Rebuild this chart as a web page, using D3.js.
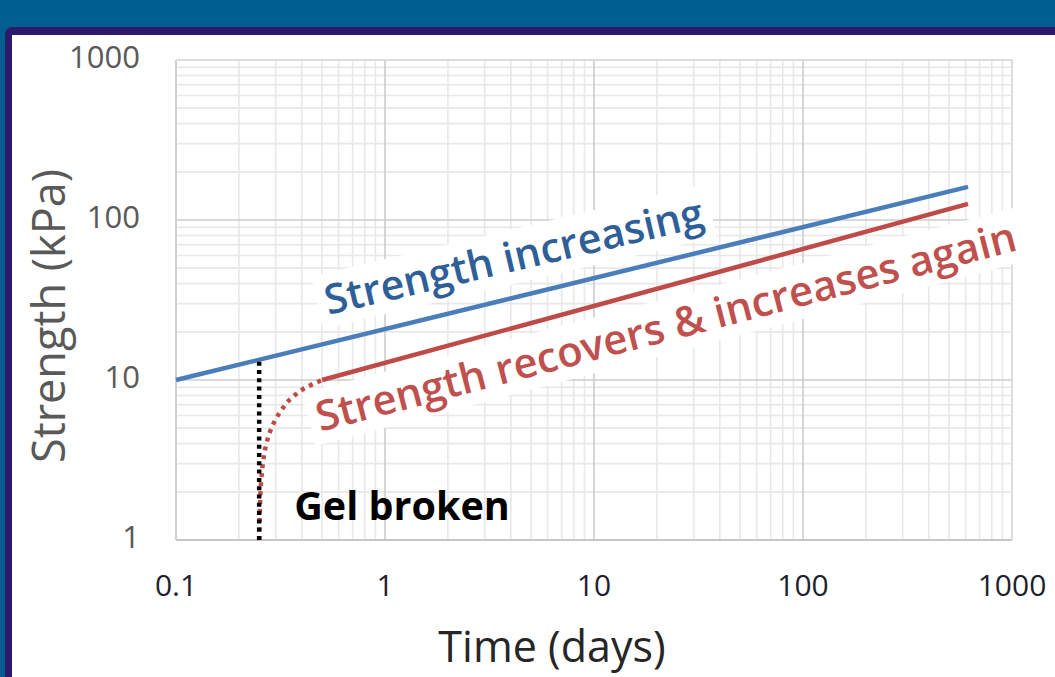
<!DOCTYPE html>
<html>
<head>
<meta charset="utf-8">
<script src="https://cdn.jsdelivr.net/npm/d3@7"></script>
<style>
  html, body { margin: 0; padding: 0; background: #005f8e; }
  svg { display: block; }
  text { font-family: "Open Sans", "DejaVu Sans", sans-serif; }
</style>
</head>
<body>
<svg id="chart" width="1055" height="677"></svg>
<script>
// ---------------- data ----------------
const xTickValues = [0.1, 1, 10, 100, 1000];
const xTickLabels = ["0.1", "1", "10", "100", "1000"];
const yTickValues = [1, 10, 100, 1000];
const yTickLabels = ["1", "10", "100", "1000"];

// Strength increasing (undisturbed gel)
const blueTime = [0.1, 616];
const blueStrength = [10, 161];

// Strength recovers & increases again (after gel broken)
const redTime = [0.5, 616];
const redStrength = [10, 126];

// Recovery phase (dotted)
const recoveryTime = [0.25, 0.252, 0.256, 0.262, 0.272, 0.29, 0.32, 0.36, 0.42, 0.5];
const recoveryStrength = [1, 1.6, 2.4, 3.2, 4.1, 5.2, 6.5, 7.8, 9.0, 10];

// Gel broken marker
const gelBrokenTime = [0.25, 0.25];
const gelBrokenStrength = [1, 13.4];

const xTitle = "Time (days)";
const yTitle = "Strength (kPa)";
const labelIncreasing = "Strength increasing";
const labelRecovers = "Strength recovers & increases again";
const labelGel = "Gel broken";

// ---------------- layout ----------------
const svg = d3.select("#chart");
const W = 1055, H = 677;
const plot = { left: 176, right: 1012, top: 60, bottom: 540 };

const x = d3.scaleLog().domain([0.1, 1000]).range([plot.left, plot.right]);
const y = d3.scaleLog().domain([1, 1000]).range([plot.bottom, plot.top]);

// frame
svg.append("rect").attr("x", 0).attr("y", 0).attr("width", W).attr("height", H).attr("fill", "#005f8e");
svg.append("rect").attr("x", 5).attr("y", 27).attr("width", W + 20).attr("height", H + 20)
  .attr("rx", 7).attr("fill", "#2d1a6c");
svg.append("rect").attr("x", 12).attr("y", 35).attr("width", W + 20).attr("height", H + 20)
  .attr("fill", "#ffffff");

// minor grid values
function minorVals(domain) {
  const out = [];
  let d = domain[0];
  while (d < domain[1] - 1e-9) {
    for (let k = 2; k <= 9; k++) out.push(d * k);
    d *= 10;
  }
  return out;
}
const g = svg.append("g");

g.selectAll(".vminor").data(minorVals(x.domain())).join("line")
  .attr("x1", d => x(d)).attr("x2", d => x(d))
  .attr("y1", plot.top).attr("y2", plot.bottom)
  .attr("stroke", "#e8e8e8").attr("stroke-width", 1.6);
g.selectAll(".hminor").data(minorVals(y.domain())).join("line")
  .attr("y1", d => y(d)).attr("y2", d => y(d))
  .attr("x1", plot.left).attr("x2", plot.right)
  .attr("stroke", "#e8e8e8").attr("stroke-width", 1.6);
g.selectAll(".vmajor").data(xTickValues).join("line")
  .attr("x1", d => x(d)).attr("x2", d => x(d))
  .attr("y1", plot.top).attr("y2", plot.bottom)
  .attr("stroke", "#cccccc").attr("stroke-width", 1.6);
g.selectAll(".hmajor").data(yTickValues).join("line")
  .attr("y1", d => y(d)).attr("y2", d => y(d))
  .attr("x1", plot.left).attr("x2", plot.right)
  .attr("stroke", "#cccccc").attr("stroke-width", 1.6);
// axes lines
g.append("line").attr("x1", plot.left).attr("x2", plot.right).attr("y1", plot.bottom).attr("y2", plot.bottom)
  .attr("stroke", "#c6c6c6").attr("stroke-width", 2);
g.append("line").attr("x1", plot.left).attr("x2", plot.left).attr("y1", plot.top).attr("y2", plot.bottom)
  .attr("stroke", "#d0d0d0").attr("stroke-width", 2);
g.append("line").attr("x1", plot.left).attr("x2", plot.right).attr("y1", plot.top).attr("y2", plot.top)
  .attr("stroke", "#dcdcdc").attr("stroke-width", 2);
g.append("line").attr("x1", plot.right).attr("x2", plot.right).attr("y1", plot.top).attr("y2", plot.bottom)
  .attr("stroke", "#dcdcdc").attr("stroke-width", 2);

// tick labels
svg.selectAll(".xlab").data(xTickValues).join("text")
  .attr("x", d => x(d)).attr("y", plot.bottom + 48)
  .attr("text-anchor", "middle").attr("dominant-baseline", "middle")
  .attr("font-size", 30).attr("fill", "#1e1e2e")
  .text((d, i) => xTickLabels[i]);
svg.selectAll(".ylab").data(yTickValues).join("text")
  .attr("x", 140).attr("y", d => y(d))
  .attr("text-anchor", "end").attr("dominant-baseline", "middle")
  .attr("font-size", 31).attr("fill", "#595959")
  .text((d, i) => yTickLabels[i]);

// axis titles
svg.append("text").attr("x", (plot.left + plot.right) / 2 - 42).attr("y", 662)
  .attr("text-anchor", "middle").attr("font-size", 43).attr("fill", "#262626").text(xTitle);
svg.append("text").attr("transform", `translate(65,${(plot.top + plot.bottom) / 2 + 16}) rotate(-90)`)
  .attr("text-anchor", "middle").attr("font-size", 45).attr("fill", "#595959").text(yTitle);

// rotated labels with white boxes
function rotLabel(txt, t, s, angle, color, targetLen) {
  const gg = svg.append("g").attr("transform", `translate(${x(t)},${y(s)}) rotate(${angle})`);
  const rect = gg.append("rect").attr("fill", "#ffffff");
  const tx = gg.append("text").attr("x", 0).attr("y", 0).attr("font-size", 42)
    .attr("font-weight", 600).attr("fill", color).text(txt);
  const len = tx.node().getComputedTextLength();
  const fs = 42 * targetLen / len;
  tx.attr("font-size", fs);
  rect.attr("x", -8).attr("y", -fs * 1.0).attr("width", targetLen + 16).attr("height", fs * 1.3);
  return gg;
}

// line generator
const line = d3.line().x(d => x(d[0])).y(d => y(d[1]));

rotLabel(labelIncreasing, 0.535, 25.5, -13.2, "#2f5f98", 388);
rotLabel(labelRecovers, 0.49, 4.75, -14.6, "#c0504d", 722);

// series
svg.append("path").datum(blueTime.map((t, i) => [t, blueStrength[i]]))
  .attr("d", line).attr("fill", "none").attr("stroke", "#4a7ebb").attr("stroke-width", 4.5);
svg.append("path").datum(redTime.map((t, i) => [t, redStrength[i]]))
  .attr("d", line).attr("fill", "none").attr("stroke", "#be4b48").attr("stroke-width", 4.5);
svg.append("path").datum(recoveryTime.map((t, i) => [t, recoveryStrength[i]]))
  .attr("d", d3.line().x(d => x(d[0])).y(d => y(d[1])).curve(d3.curveMonotoneY))
  .attr("fill", "none").attr("stroke", "#be4b48").attr("stroke-width", 4.5)
  .attr("stroke-dasharray", "4 5");
svg.append("path").datum(gelBrokenTime.map((t, i) => [t, gelBrokenStrength[i]]))
  .attr("d", line).attr("fill", "none").attr("stroke", "#000000").attr("stroke-width", 4.5)
  .attr("stroke-dasharray", "4 4.3");

// Gel broken label
svg.append("text").attr("x", x(0.368)).attr("y", y(1.33))
  .attr("font-size", 39.5).attr("font-weight", 700).attr("fill", "#000000").text(labelGel);
</script>
</body>
</html>
